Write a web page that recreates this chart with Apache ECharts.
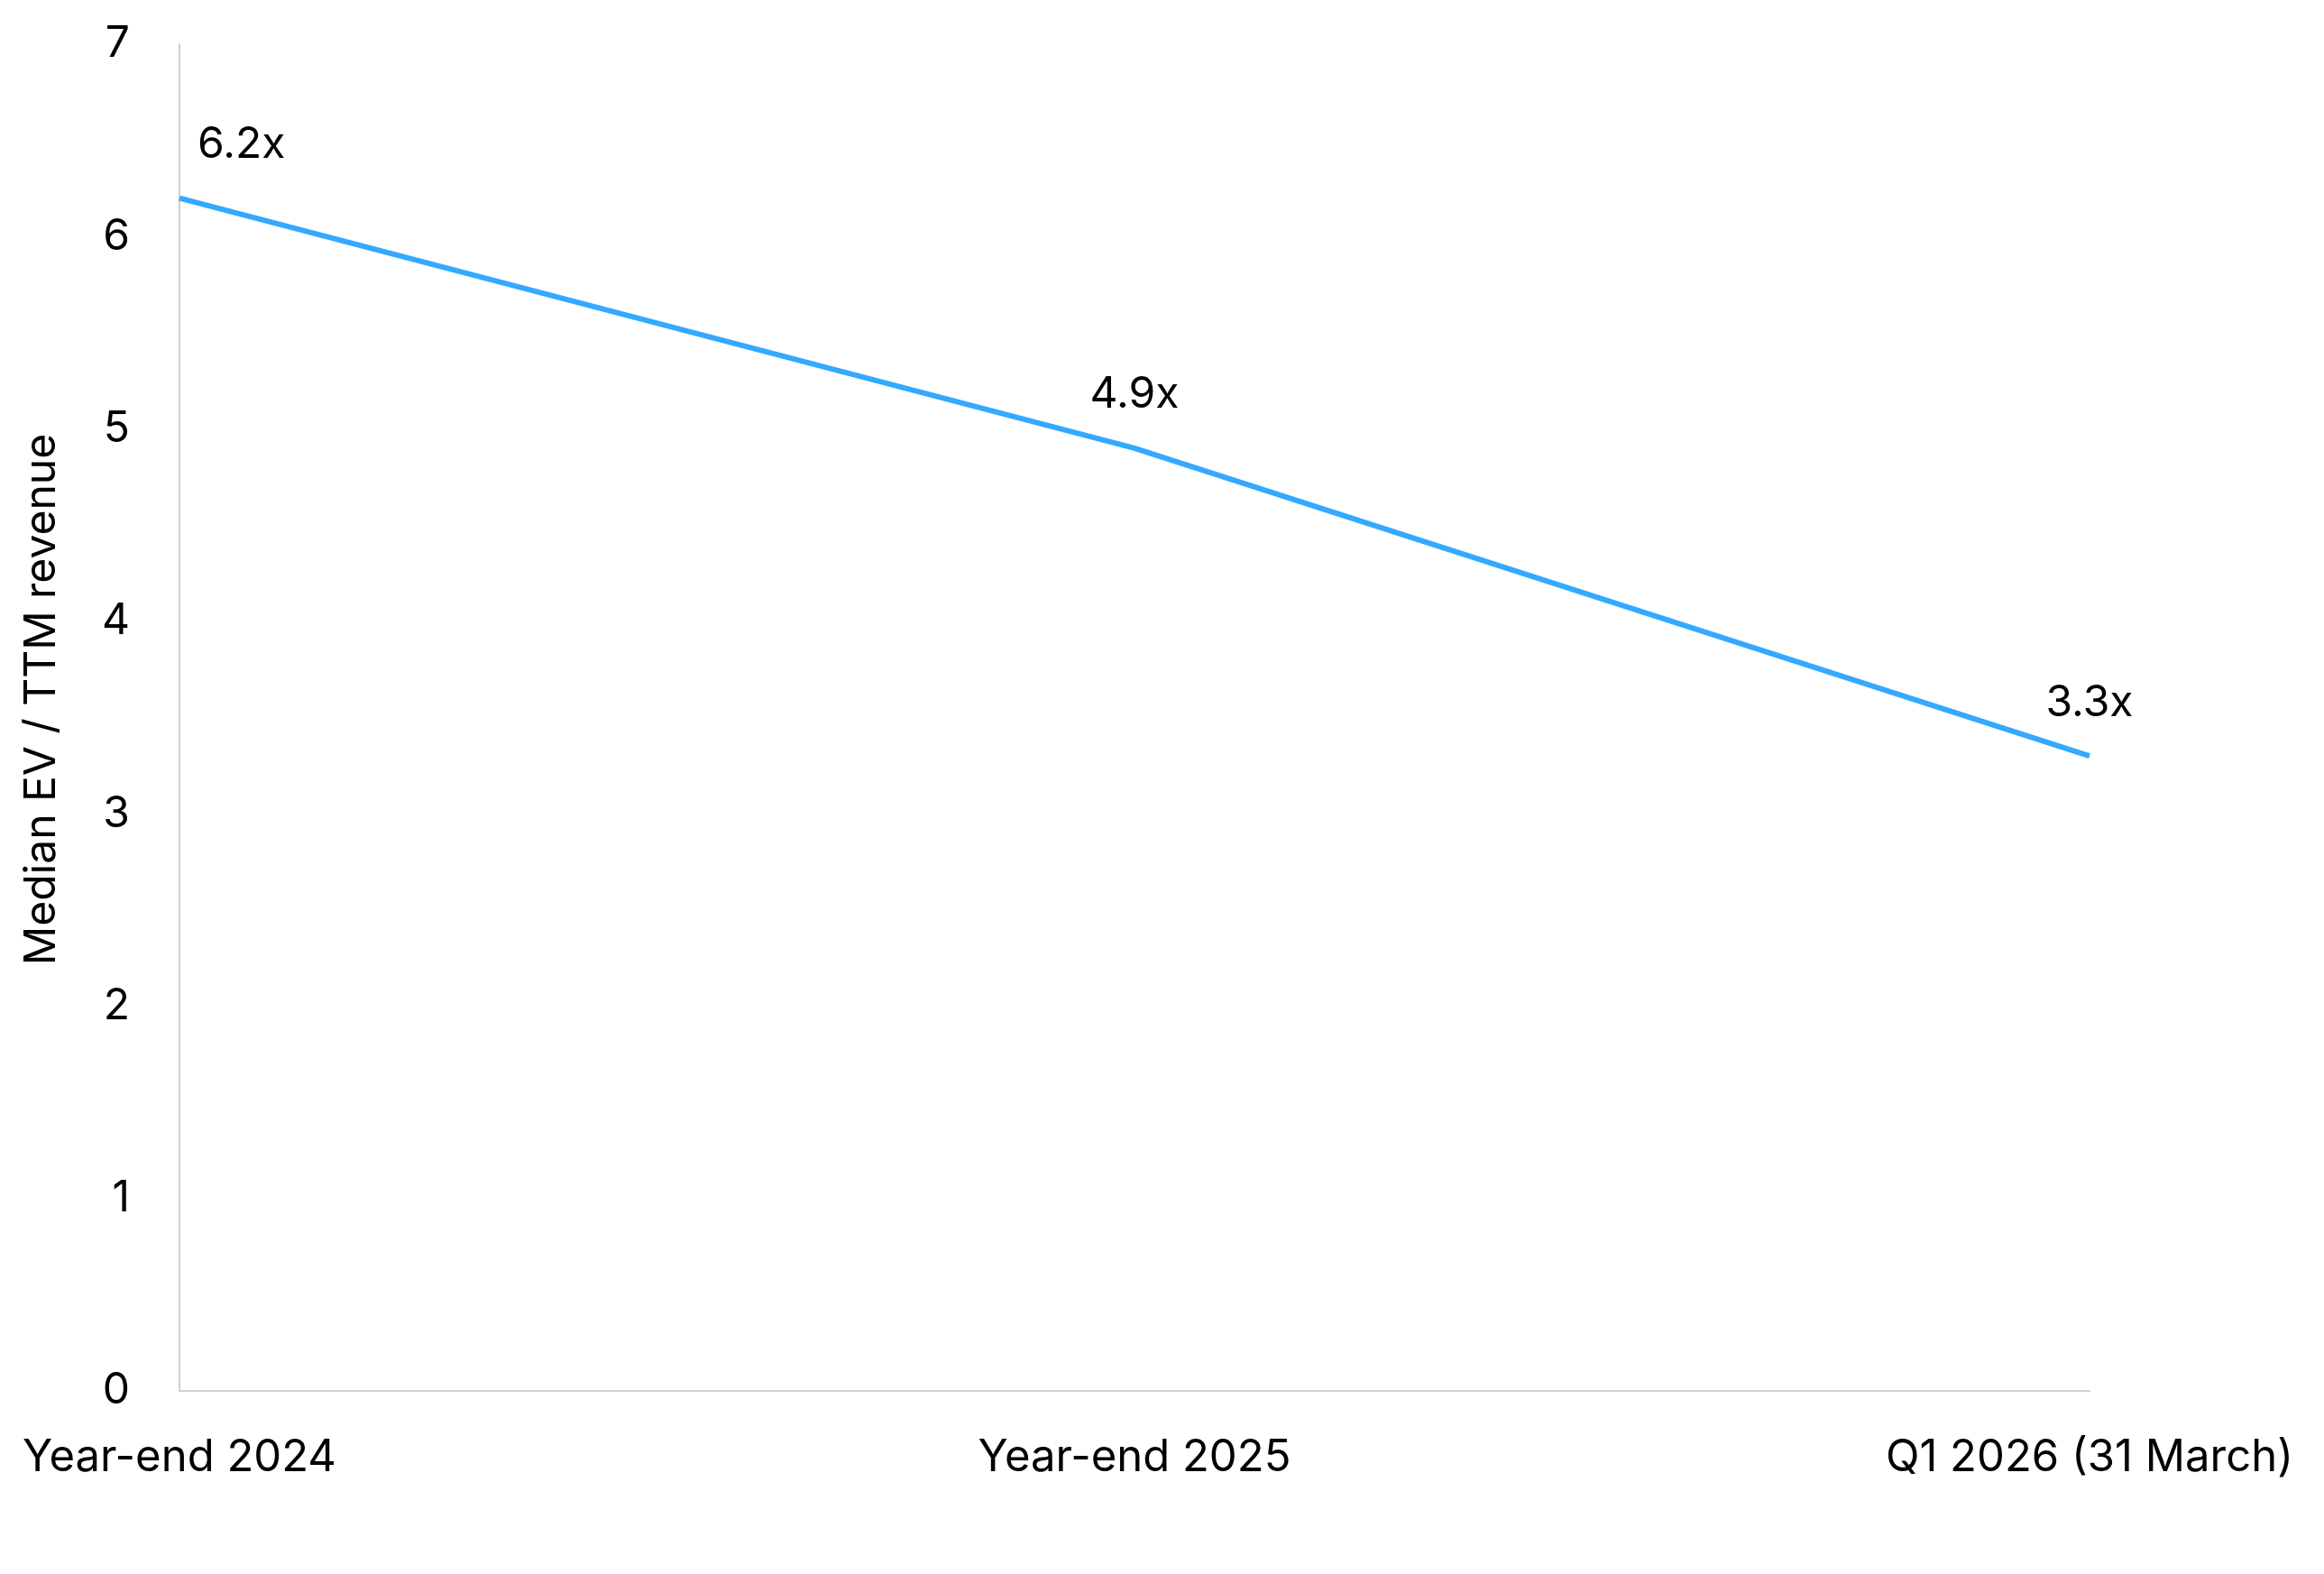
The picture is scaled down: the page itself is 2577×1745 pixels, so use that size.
<!DOCTYPE html>
<html>
<head>
<meta charset="utf-8">
<script src="https://cdn.jsdelivr.net/npm/echarts@6/dist/echarts.min.js"></script>
<style>
  html, body { margin: 0; padding: 0; background: #fff; }
  #main { width: 2577px; height: 1745px; }
</style>
</head>
<body>
<div id="main"></div>
<script>
// 数据
var categories = ["Year-end 2024", "Year-end 2025", "Q1 2026 (31 March)"];
var multiples = [6.2, 4.9, 3.3];
var yTicks = [0, 1, 2, 3, 4, 5, 6, 7];

var font = "Inter";

// 第一个点的标签往右挪一点
var seriesData = multiples.map(function (v, i) {
    if (i === 0) {
        return { value: v, label: { align: "left", offset: [20, 0] } };
    }
    return v;
});

var myChart = echarts.init(document.getElementById("main"));

var option = {
    backgroundColor: "#ffffff",
    animation: false,
    grid: {
        left: 199,
        right: 260,
        top: 49,
        bottom: 203
    },
    xAxis: {
        type: "category",
        data: categories,
        boundaryGap: false,
        axisLine: { lineStyle: { color: "#d0d0d0", width: 2 } },
        axisTick: { show: false },
        axisLabel: {
            color: "#000",
            fontFamily: font,
            fontSize: 49,
            margin: 50
        }
    },
    yAxis: {
        type: "value",
        min: yTicks[0],
        max: yTicks[yTicks.length - 1],
        interval: 1,
        name: "Median EV / TTM revenue",
        nameLocation: "middle",
        nameGap: 128,
        nameTextStyle: {
            color: "#000",
            fontFamily: font,
            fontSize: 48,
            padding: [0, 0, 0, 40]
        },
        axisLine: { show: true, lineStyle: { color: "#d0d0d0", width: 2 } },
        axisTick: { show: false },
        splitLine: { show: false },
        axisLabel: {
            color: "#000",
            fontFamily: font,
            fontSize: 48,
            margin: 55
        }
    },
    series: [{
        name: "Median EV / TTM revenue",
        type: "line",
        data: seriesData,
        symbol: "circle",
        symbolSize: 2,
        showSymbol: true,
        itemStyle: { color: "rgba(51,169,255,0)" },
        lineStyle: { color: "#33a9ff", width: 6 },
        label: {
            show: true,
            position: "top",
            distance: 34,
            color: "#000",
            opacity: 1,
            fontFamily: font,
            fontSize: 48,
            formatter: function (p) { return p.value.toFixed(1) + "x"; }
        }
    }]
};

myChart.setOption(option);
</script>
</body>
</html>
